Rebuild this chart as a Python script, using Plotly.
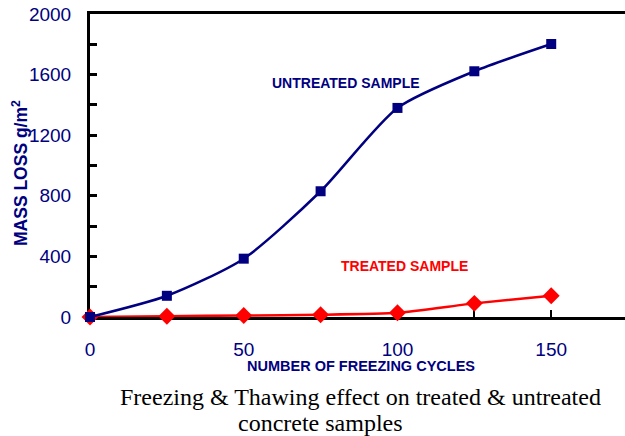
import plotly.graph_objects as go

cycles = [0, 25, 50, 75, 100, 125, 150]
untreated = [0, 140, 385, 830, 1380, 1622, 1802]
treated = [0, 5, 10, 15, 28, 90, 140]

NAVY = "#000080"
RED = "#FF0000"
SANS = "Liberation Sans, Arial"
SERIF = "Liberation Serif, Times New Roman"

# plot area in pixels (left, right, top, bottom)
L, R, T, B = 90, 625, 14, 317


def px(x):
    return (x - L) / (R - L)


def py(y):
    return (B - y) / (B - T)


fig = go.Figure()
fig.add_trace(go.Scatter(
    x=cycles, y=treated, mode="lines+markers",
    line=dict(color=RED, width=2.5, shape="spline", smoothing=0.5),
    marker=dict(symbol="diamond", size=13, color=RED),
    cliponaxis=False, showlegend=False))
fig.add_trace(go.Scatter(
    x=cycles, y=untreated, mode="lines+markers",
    line=dict(color=NAVY, width=2.5, shape="spline", smoothing=0.7),
    marker=dict(symbol="square", size=10, color=NAVY),
    cliponaxis=False, showlegend=False))


def note(x, y, text, size, color, family=SANS, angle=0, xanchor="center"):
    fig.add_annotation(x=px(x), y=py(y), xref="paper", yref="paper", text=text,
                       showarrow=False, textangle=angle, xanchor=xanchor, yanchor="middle",
                       font=dict(family=family, size=size, color=color))


note(346, 83, "<b>UNTREATED SAMPLE</b>", 14, NAVY)
note(404, 266, "<b>TREATED SAMPLE</b>", 14, RED)
note(361, 366, "<b>NUMBER OF FREEZING CYCLES</b>", 14.5, NAVY)
note(20, 173, "<b>MASS LOSS g/m<sup>2</sup></b>", 17.5, NAVY, angle=-90)
note(118, 397, "Freezing &amp; Thawing effect on treated &amp; untreated", 24, "black", SERIF, xanchor="left")
note(236, 423, "concrete samples", 24, "black", SERIF, xanchor="left")

fig.update_layout(
    width=625, height=436,
    margin=dict(l=L, r=625 - R, t=T, b=436 - B, autoexpand=False),
    plot_bgcolor="white", paper_bgcolor="white",
    font=dict(family=SANS, color=NAVY),
    xaxis=dict(range=[0, 174], tickmode="array", tickvals=[0, 50, 100, 150],
               ticks="inside", ticklen=7, tickwidth=2, tickcolor="black",
               minor=dict(tickvals=[25, 75, 125], ticks="inside", ticklen=7, tickwidth=2, tickcolor="black"),
               showline=True, linecolor="black", linewidth=2.5, mirror=True,
               showgrid=False, zeroline=False, automargin=False,
               tickfont=dict(size=19, color=NAVY), ticklabelstandoff=13, layer="below traces"),
    yaxis=dict(range=[0, 2000], tickmode="array", tickvals=[0, 400, 800, 1200, 1600, 2000],
               ticks="inside", ticklen=7, tickwidth=2.5, tickcolor="black",
               minor=dict(tickvals=[200, 600, 1000, 1400, 1800], ticks="inside", ticklen=7, tickwidth=2.5, tickcolor="black"),
               showline=True, linecolor="black", linewidth=3,
               showgrid=False, zeroline=False, automargin=False,
               tickfont=dict(size=19, color=NAVY), ticklabelstandoff=12, layer="below traces"),
)

fig.write_html("out.html", config={"displayModeBar": False},
               post_script="document.body.style.margin='0';document.body.style.overflow='hidden';")
